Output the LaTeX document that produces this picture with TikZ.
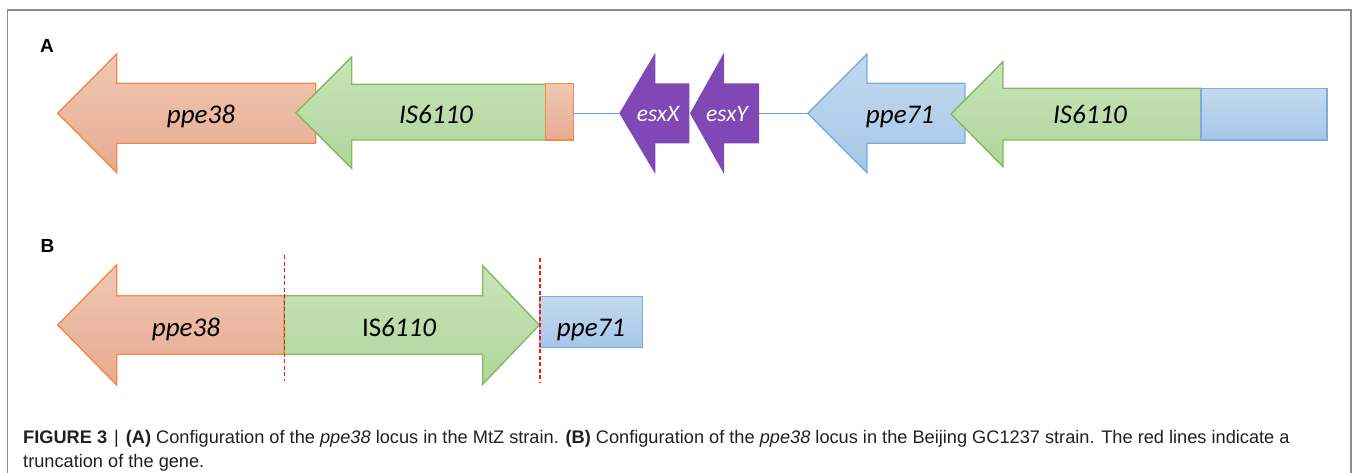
\documentclass[tikz,border=0pt]{standalone}
\usepackage{fontspec}
\setmainfont{Liberation Sans}
\newfontfamily\calib{Carlito}
\newfontfamily\capfont{Liberation Sans}
\definecolor{orTop}{RGB}{240,200,180}
\definecolor{orBot}{RGB}{232,170,144}
\definecolor{orLine}{RGB}{238,140,72}
\definecolor{grTop}{RGB}{201,228,187}
\definecolor{grBot}{RGB}{176,213,155}
\definecolor{grLine}{RGB}{128,188,88}
\definecolor{blTop}{RGB}{196,217,238}
\definecolor{blBot}{RGB}{166,199,232}
\definecolor{blLine}{RGB}{122,172,222}
\definecolor{spLine}{RGB}{100,165,225}
\definecolor{purp}{RGB}{127,72,181}
\definecolor{frameGray}{RGB}{140,140,140}
\definecolor{capText}{RGB}{35,31,32}
\definecolor{cutRed}{RGB}{245,25,15}
\tikzset{
  orgene/.style={draw=orLine, line width=1.4pt, top color=orTop, bottom color=orBot, line join=miter},
  grgene/.style={draw=grLine, line width=1.4pt, top color=grTop, bottom color=grBot, line join=miter},
  blgene/.style={draw=blLine, line width=1.4pt, top color=blTop, bottom color=blBot, line join=miter},
  pugene/.style={fill=purp},
  spacer/.style={draw=spLine, line width=1.5pt},
  cutline/.style={draw=cutRed, line width=1.6pt, dash pattern=on 4pt off 2.5pt},
  genelabel/.style={font=\calib\itshape\fontsize{27}{30}\selectfont, anchor=base, inner sep=0pt, text=black},
  smalllabel/.style={font=\calib\itshape\fontsize{23.5}{26}\selectfont, anchor=base, inner sep=0pt, text=white},
  panellabel/.style={font=\bfseries\fontsize{19}{21}\selectfont, anchor=base west, inner sep=0pt},
  captionline/.style={font=\capfont\fontsize{18.2}{22}\selectfont, anchor=base west, inner sep=0pt, text=capText}
}
\begin{document}
\begin{tikzpicture}[x=1pt,y=-1pt]
\useasboundingbox (0,0) rectangle (1354,473);
% frame
\draw[frameGray, line width=1.5pt] (7.5,480) -- (7.5,10) -- (1351,10) -- (1351,480);
% panel labels
\node[panellabel] (labA) at (40,53) {A};
\node[panellabel] (labB) at (40.5,252) {B};

% ---------------- Row A ----------------
\path[orgene] (315.7,83.3) -- (116.7,83.3) -- (116.7,54) -- (57.7,113.3) -- (116.7,172.7) -- (116.7,143.3) -- (315.7,143.3) -- cycle;
\path[grgene] (545.7,84.3) -- (351.7,84.3) -- (351.7,57) -- (296,112.7) -- (351.7,168.4) -- (351.7,140) -- (545.7,140) -- cycle;
\path[orgene] (545.7,83.3) rectangle (573.3,140);
\coordinate (boxEnd) at (573.3,113.3);
\coordinate (esxXtip) at (619.3,113.3);
\coordinate (esxYend) at (759,113.3);
\coordinate (ppeSevTip) at (807.8,113.3);
\draw[spacer] (boxEnd) -- (esxXtip);
\draw[spacer] (esxYend) -- (ppeSevTip);
\path[pugene] (689.3,83.3) -- (655.3,83.3) -- (655.3,52.7) -- (619.3,113.3) -- (655.3,174) -- (655.3,143.3) -- (689.3,143.3) -- cycle;
\path[pugene] (759,83.3) -- (724,83.3) -- (724,52.7) -- (690,113.3) -- (724,174) -- (724,143.3) -- (759,143.3) -- cycle;
\path[blgene] (965,83.3) -- (867,83.3) -- (867,54) -- (807.8,113.3) -- (867,172.7) -- (867,143.3) -- (965,143.3) -- cycle;
\path[grgene] (1201,88.3) -- (1003,88.3) -- (1003,61.7) -- (951,114) -- (1003,166.7) -- (1003,140) -- (1201,140) -- cycle;
\path[blgene] (1201,88.3) rectangle (1327,140);

\node[genelabel] (ppeA) at (201,123.5) {ppe38};
\node[genelabel] (isA1) at (436,123.5) {IS6110};
\node[smalllabel] (esxX) at (658,121.5) {esxX};
\node[smalllabel] (esxY) at (727,121.5) {esxY};
\node[genelabel] (ppeSevA) at (900,123.5) {ppe71};
\node[genelabel] (isA2) at (1090,123.5) {IS6110};

% ---------------- Row B ----------------
\path[orgene] (284.3,295.7) -- (116.7,295.7) -- (116.7,265) -- (57.7,325) -- (116.7,385) -- (116.7,354.3) -- (284.3,354.3) -- cycle;
\path[grgene] (284.3,295.7) -- (482.7,295.7) -- (482.7,265.7) -- (539.3,325) -- (482.7,384.3) -- (482.7,354.3) -- (284.3,354.3) -- cycle;
\path[blgene] (539.3,296.7) rectangle (642.7,347.7);
\coordinate (cutOneTop) at (284.3,255);
\coordinate (cutOneBot) at (284.3,381);
\coordinate (cutTwoTop) at (540,258);
\coordinate (cutTwoBot) at (540,383);
\draw[cutline] (cutOneTop) -- (cutOneBot);
\draw[cutline, line width=1.8pt] (cutTwoTop) -- (cutTwoBot);

\node[genelabel] (ppeB) at (186,336) {ppe38};
\node[genelabel] (isB) at (399,336) {\upshape IS\itshape 6110};
\node[genelabel] (ppeSevB) at (591,336) {ppe71};

% ---------------- Caption ----------------
\node[captionline] (capOne) at (23,443) {\textbf{FIGURE 3}\hspace{7pt}|\hspace{7pt}\textbf{(A)} Configuration of the \textit{ppe38} locus in the MtZ strain. \textbf{(B)} Configuration of the \textit{ppe38} locus in the Beijing GC1237 strain. The red lines indicate a};
\node[captionline] (capTwo) at (23,467) {truncation of the gene.};
\end{tikzpicture}
\end{document}
